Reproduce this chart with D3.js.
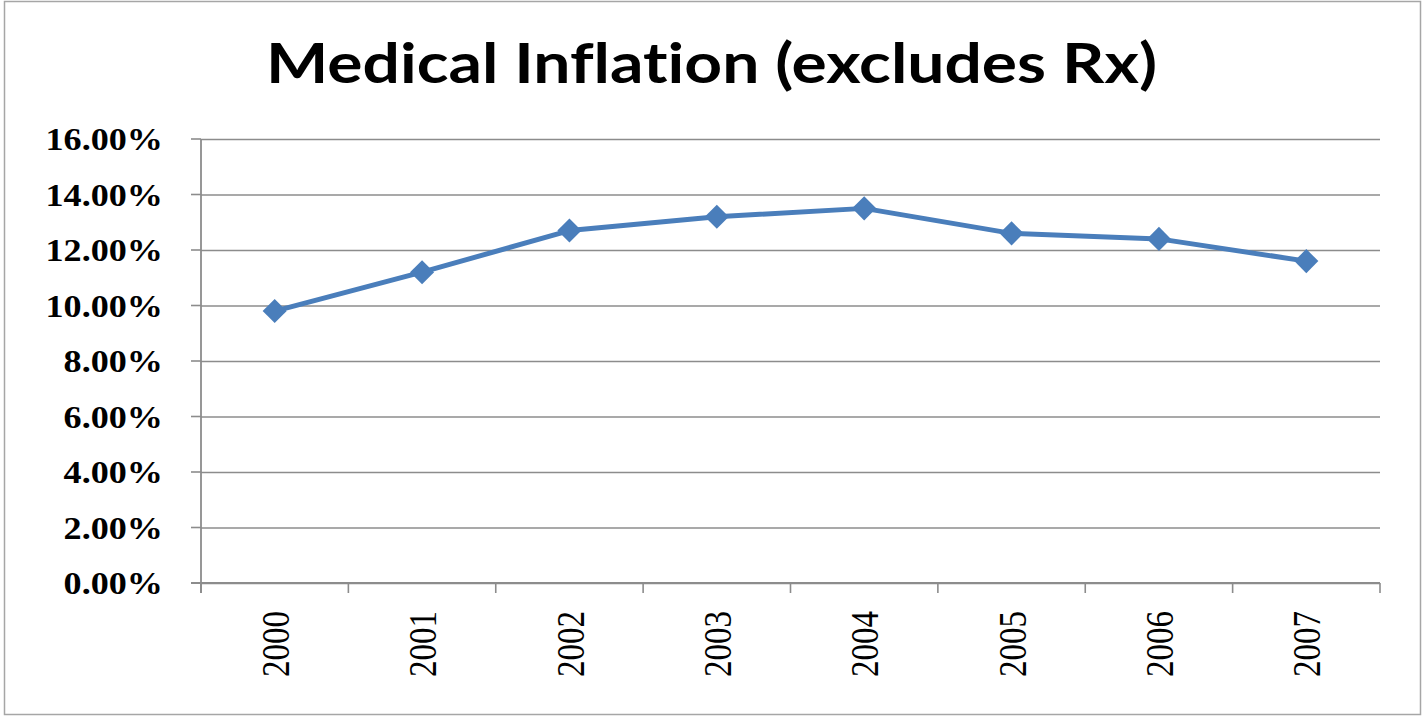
<!DOCTYPE html>
<html>
<head>
<meta charset="utf-8">
<script src="https://cdn.jsdelivr.net/npm/d3@7"></script>
<style>
  body { margin: 0; background: #fff; }
  .grid line { stroke: #8c8c8c; stroke-width: 1.6; }
  .grid path { display: none; }
</style>
</head>
<body>
<div id="chart"></div>
<script>
let width = 1423,
    height = 717;

// data
const years = ["2000", "2001", "2002", "2003", "2004", "2005", "2006", "2007"];
const inflation = [9.8, 11.2, 12.7, 13.2, 13.5, 12.6, 12.4, 11.6];
const yTicks = [0, 2, 4, 6, 8, 10, 12, 14, 16];
const title = "Medical Inflation (excludes Rx)";

const plotLeft = 201, plotRight = 1380, plotTop = 139, plotBottom = 583;

const svg = d3.select("#chart")
  .append("svg")
  .attr("width", width)
  .attr("height", height);

// outer chart border
svg.append("rect")
  .attr("x", 4.5).attr("y", 1.5)
  .attr("width", 1416).attr("height", 713)
  .attr("fill", "#fff")
  .attr("stroke", "#a6a6a6")
  .attr("stroke-width", 1.5);

svg.append("text")
  .attr("x", 266)
  .attr("y", 83)
  .attr("textLength", 891)
  .attr("lengthAdjust", "spacingAndGlyphs")
  .style("font-family", "Lato, 'Open Sans', sans-serif")
  .style("font-weight", "bold")
  .style("font-size", "56px")
  .style("font-variant-ligatures", "none")
  .style("font-feature-settings", "'liga' 0")
  .attr("fill", "#000")
  .text(title);

const x = d3.scaleBand()
  .domain(years)
  .range([plotLeft, plotRight])
  .padding(0);

const y = d3.scaleLinear()
  .domain([0, 16])
  .range([plotBottom, plotTop]);

// horizontal gridlines
svg.append("g")
  .attr("class", "grid")
  .attr("transform", "translate(" + plotLeft + ",0)")
  .call(d3.axisLeft(y)
    .tickValues(yTicks)
    .tickSizeInner(-(plotRight - plotLeft))
    .tickSizeOuter(0)
    .tickFormat(""));

// small outside ticks on the left
svg.append("g")
  .selectAll("line")
  .data(yTicks)
  .enter().append("line")
  .attr("x1", plotLeft - 10).attr("x2", plotLeft)
  .attr("y1", function (d) { return y(d); })
  .attr("y2", function (d) { return y(d); })
  .attr("stroke", "#8c8c8c")
  .attr("stroke-width", 1.6);

// y labels
svg.append("g")
  .selectAll("text")
  .data(yTicks)
  .enter().append("text")
  .attr("transform", function (d) { return "translate(163," + y(d) + ") scale(1.13,1)"; })
  .attr("text-anchor", "end")
  .attr("dy", "0.35em")
  .style("font-family", "'Liberation Serif', 'DejaVu Serif', serif")
  .style("font-weight", "bold")
  .style("font-size", "32px")
  .text(function (d) { return d.toFixed(2) + "%"; });

// axis lines
svg.append("line")
  .attr("x1", plotLeft).attr("x2", plotLeft)
  .attr("y1", plotTop).attr("y2", plotBottom + 10)
  .attr("stroke", "#8c8c8c").attr("stroke-width", 1.8);
svg.append("line")
  .attr("x1", plotLeft - 10).attr("x2", plotRight)
  .attr("y1", plotBottom).attr("y2", plotBottom)
  .attr("stroke", "#8c8c8c").attr("stroke-width", 1.8);

// x ticks at category boundaries
let bounds = years.map(function (d) { return x(d); }).concat([x.range()[1]]);
svg.append("g")
  .selectAll("line")
  .data(bounds)
  .enter().append("line")
  .attr("x1", function (d) { return d; })
  .attr("x2", function (d) { return d; })
  .attr("y1", plotBottom).attr("y2", plotBottom + 10)
  .attr("stroke", "#8c8c8c")
  .attr("stroke-width", 1.6);

// x labels rotated
svg.append("g")
  .selectAll("text")
  .data(years)
  .enter().append("text")
  .attr("transform", function (d) {
    return "translate(" + (x(d) + x.bandwidth() / 2) + ",611) scale(1.22,1) rotate(-90)";
  })
  .attr("text-anchor", "end")
  .attr("dy", "0.35em")
  .style("font-family", "'Liberation Serif', 'DejaVu Serif', serif")
  .style("font-size", "33px")
  .text(function (d) { return d; });

// series
let points = years.map(function (d, i) { return [x(d) + x.bandwidth() / 2, y(inflation[i])]; });

svg.append("path")
  .datum(points)
  .attr("d", d3.line())
  .attr("fill", "none")
  .attr("stroke", "#4a7ebb")
  .attr("stroke-width", 5)
  .attr("stroke-linejoin", "round");

svg.append("g")
  .selectAll("path")
  .data(points)
  .enter().append("path")
  .attr("d", d3.symbol().type(d3.symbolSquare).size(290))
  .attr("transform", function (d) { return "translate(" + d[0] + "," + d[1] + ") rotate(45)"; })
  .attr("fill", "#4a7ebb");
</script>
</body>
</html>
